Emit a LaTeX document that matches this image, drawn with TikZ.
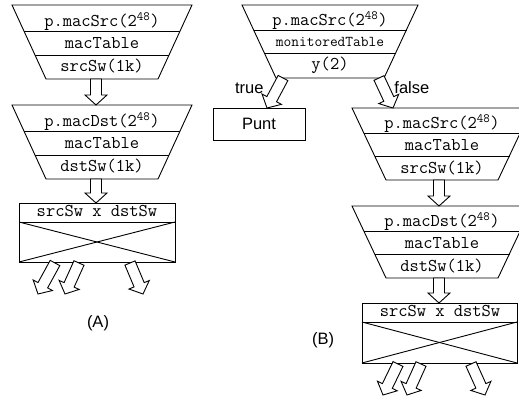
\documentclass[tikz,border=0pt]{standalone}
\usepackage{fontspec}
\setmainfont{Liberation Sans}
\usetikzlibrary{calc}

\begin{document}
\begin{tikzpicture}[x=1pt, y=-1pt, line width=0.9pt]

\tikzstyle{cell}=[inner sep=0pt, anchor=base,
    font=\ttfamily\fontsize{18}{18}\selectfont\addfontfeatures{FakeStretch=1.08}]
\tikzstyle{smallcell}=[cell,
    font=\ttfamily\fontsize{15}{15}\selectfont\addfontfeatures{FakeStretch=1.08}]
\tikzstyle{caption}=[inner sep=0pt, font=\fontsize{16.5}{17}\selectfont]
\tikzstyle{fatarrow}=[draw, fill=white, line join=miter, to path={
    let \p1=($(\tikztotarget)!10pt!(\tikztostart)$) in
    ($(\tikztostart)!5.5pt!90:(\tikztotarget)$)
    -- ($(\p1)!5.5pt!90:(\tikztotarget)$)
    -- ($(\p1)!11pt!90:(\tikztotarget)$)
    -- (\tikztotarget)
    -- ($(\p1)!11pt!-90:(\tikztotarget)$)
    -- ($(\p1)!5.5pt!-90:(\tikztotarget)$)
    -- ($(\tikztostart)!5.5pt!-90:(\tikztotarget)$) -- cycle}]

  \path[clip, use as bounding box] (0,0) rectangle (519,399);

  % (A) macSrc table
  \begin{scope}[shift={(102,5)}]
    \draw (-90,0) -- (90,0) -- (56,74) -- (-56,74) -- cycle;
    \draw (-78,26) -- (78,26);
    \draw (-67,50) -- (67,50);
    \node[cell] (asrc) at (0,21.5) {p.macSrc(2\textsuperscript{48})};
    \node[cell] (atabsrc) at (0,43) {macTable};
    \node[cell] (asrcsw) at (0,66) {srcSw(1k)};
  \end{scope}

  % (A) macDst table
  \begin{scope}[shift={(102,105)}]
    \draw (-90,0) -- (90,0) -- (56,74) -- (-56,74) -- cycle;
    \draw (-78,26) -- (78,26);
    \draw (-67,50) -- (67,50);
    \node[cell] (adst) at (0,21.5) {p.macDst(2\textsuperscript{48})};
    \node[cell] (atabdst) at (0,43) {macTable};
    \node[cell] (adstsw) at (0,66) {dstSw(1k)};
  \end{scope}

  % (A) cross product
  \draw (19,203) rectangle (175,262);
  \draw (19,222) -- (175,222);
  \draw (19,222) -- (175,262);
  \draw (175,222) -- (19,262);
  \node[cell] (across) at (97,216) {srcSw x dstSw};

  \node[caption] (alabel) at (98,323) {(A)};

  \coordinate (a1out) at (96,79);
  \coordinate (a2in) at (96,105);
  \coordinate (a2out) at (96,179);
  \coordinate (axin) at (96,203);
  \draw[fatarrow] (a1out) to (a2in);
  \draw[fatarrow] (a2out) to (axin);

  \coordinate (ao1) at (55,263);
  \coordinate (ao1e) at (38,294);
  \coordinate (ao2) at (79,263);
  \coordinate (ao2e) at (65,294);
  \coordinate (ao3) at (130,263);
  \coordinate (ao3e) at (143,294);
  \draw[fatarrow] (ao1) to (ao1e);
  \draw[fatarrow] (ao2) to (ao2e);
  \draw[fatarrow] (ao3) to (ao3e);

  % (B) monitored table
  \begin{scope}[shift={(330,5)}]
    \draw (-88,0) -- (88,0) -- (54,73) -- (-54,73) -- cycle;
    \draw (-76.5,25) -- (76.5,25);
    \draw (-65.5,48) -- (65.5,48);
    \node[cell] (bsrc) at (0,20.5) {p.macSrc(2\textsuperscript{48})};
    \node[smallcell] (bmon) at (0,41.5) {monitoredTable};
    \node[cell] (by) at (0,64) {y(2)};
  \end{scope}

  \node[draw, caption, minimum width=92pt, minimum height=32pt] (punt)
    at (259,124) {Punt};

  % (B) macSrc table
  \begin{scope}[shift={(442,108)}]
    \draw (-90,0) -- (90,0) -- (56,72) -- (-56,72) -- cycle;
    \draw (-78,25) -- (78,25);
    \draw (-67.5,48) -- (67.5,48);
    \node[cell] (bsrc2) at (0,20.5) {p.macSrc(2\textsuperscript{48})};
    \node[cell] (btabsrc) at (0,42) {macTable};
    \node[cell] (bsrcsw) at (0,65) {srcSw(1k)};
  \end{scope}

  % (B) macDst table
  \begin{scope}[shift={(442,206)}]
    \draw (-90,0) -- (90,0) -- (56,72) -- (-56,72) -- cycle;
    \draw (-78,25) -- (78,25);
    \draw (-67.5,48) -- (67.5,48);
    \node[cell] (bdst) at (0,20.5) {p.macDst(2\textsuperscript{48})};
    \node[cell] (btabdst) at (0,42) {macTable};
    \node[cell] (bdstsw) at (0,65) {dstSw(1k)};
  \end{scope}

  % (B) cross product
  \draw (362,303) rectangle (517,363);
  \draw (362,322) -- (517,322);
  \draw (362,322) -- (517,363);
  \draw (517,322) -- (362,363);
  \node[cell] (bcross) at (440,316) {srcSw x dstSw};

  \node[caption] (blabel) at (323,340) {(B)};

  \coordinate (btrue) at (283,78);
  \coordinate (punttop) at (267,108);
  \coordinate (bfalse) at (379,78);
  \coordinate (b2in) at (393,108);
  \draw[fatarrow] (btrue) to (punttop);
  \draw[fatarrow] (bfalse) to (b2in);
  \node[caption, anchor=east] (truelbl) at (264,88) {true};
  \node[caption, anchor=west] (falselbl) at (394,88) {false};

  \coordinate (b2out) at (439,180);
  \coordinate (b3in) at (439,206);
  \coordinate (b3out) at (439,278);
  \coordinate (bxin) at (439,303);
  \draw[fatarrow] (b2out) to (b3in);
  \draw[fatarrow] (b3out) to (bxin);

  \coordinate (bo1) at (398,364);
  \coordinate (bo1e) at (383,395);
  \coordinate (bo2) at (421,364);
  \coordinate (bo2e) at (407,395);
  \coordinate (bo3) at (471,364);
  \coordinate (bo3e) at (485,395);
  \draw[fatarrow] (bo1) to (bo1e);
  \draw[fatarrow] (bo2) to (bo2e);
  \draw[fatarrow] (bo3) to (bo3e);

\end{tikzpicture}
\end{document}
